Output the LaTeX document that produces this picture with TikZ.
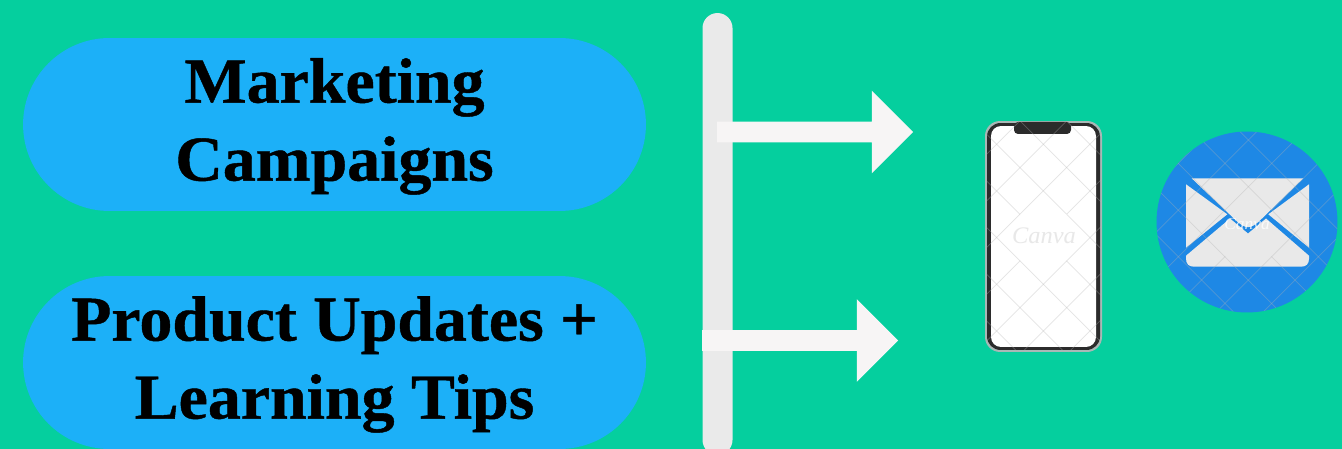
\documentclass[tikz,border=0pt]{standalone}
\usepackage{fontspec}
\setmainfont{Liberation Serif}[FakeStretch=1.03,BoldFeatures={FakeBold=0.7}]
\usepackage{tikz}
\usetikzlibrary{shapes.misc, shapes.arrows}

\definecolor{bggreen}{HTML}{05CF9E}
\definecolor{pillblue}{HTML}{1CB0F8}
\definecolor{barwhite}{HTML}{EAEAEA}
\definecolor{arrowwhite}{HTML}{F7F5F5}
\definecolor{mailblue}{HTML}{1E88E5}
\definecolor{mailwhite}{HTML}{E9E9E9}
\definecolor{phonedark}{HTML}{2B2B2B}
\definecolor{phonerim}{HTML}{A9B8B6}
\newcommand{\pillstrut}{\rule{0pt}{27.5pt}}

\begin{document}
\begin{tikzpicture}[
    x=0.02cm, y=-0.02cm,
    pill/.style={rounded rectangle, minimum width=12.46cm, minimum height=3.46cm, inner sep=0pt, outer sep=0pt, fill=pillblue, text=black, align=center, font=\fontsize{36.4}{44.4}\selectfont\bfseries},
    pointer/.style={single arrow, single arrow head extend=0.62cm, single arrow tip angle=90, minimum height=3.92cm, inner xsep=0pt, inner ysep=0.2cm, outer sep=0pt, fill=arrowwhite},
    lattice/.style={gray!60!white, opacity=0.35, line width=0.4pt},
    watermark/.style={inner sep=0pt, font=\itshape}
]

\fill [bggreen] (0,0) rectangle (1342,449);
\useasboundingbox (0,0) rectangle (1342,449);
\clip (0,0) rectangle (1342,449);

\node (campaigns) [pill] at (334.5,124.5) {\pillstrut Marketing\\Campaigns};
\node (updates) [pill] at (334.5,362.5) {\pillstrut Product Updates +\\Learning Tips};

\node (bar) [rectangle, rounded corners=0.3cm, minimum width=0.6cm, minimum height=8.84cm, inner sep=0pt, fill=barwhite] at (717.5,234) {};
\node (upper) [pointer] at (810,132) {};
\node (lower) [pointer] at (795,340.5) {};

\node (phone) [rectangle, rounded corners=0.3cm, minimum width=2.34cm, minimum height=4.62cm, inner sep=0pt, outer sep=0pt, fill=phonerim] at (1043.5,236.5) {};
\node (body) [rectangle, rounded corners=0.27cm, minimum width=2.26cm, minimum height=4.54cm, inner sep=0pt, outer sep=0pt, fill=phonedark] at (phone.center) {};
\node (screen) [rectangle, rounded corners=0.2cm, minimum width=2.1cm, minimum height=4.42cm, inner sep=0pt, outer sep=0pt, fill=white] at (phone.center) {};
\fill [phonedark, rounded corners=0.08cm] (1014,122) -- (1014,134) -- (1071,134) -- (1071,122) -- cycle;

\begin{scope}[even odd rule]
\clip [rounded corners=0.3cm] (985,121) rectangle (1102,352);
\clip (980,115) rectangle (1110,360) (1020,214) rectangle (1066.7,261);
\foreach \k in {-6,...,6} {
    \draw [lattice] (1043.3+46.67*\k-140,237.6-140) -- (1043.3+46.67*\k+140,237.6+140);
    \draw [lattice] (1043.3+46.67*\k+140,237.6-140) -- (1043.3+46.67*\k-140,237.6+140);
}
\end{scope}
\node (phonemark) [watermark, text=black!9, font=\fontsize{13.5}{15}\selectfont\itshape] at (1044,236) {Canva};

\node (mail) [circle, minimum size=3.62cm, inner sep=0pt, outer sep=0pt, fill=mailblue] at (1247,222) {};

\fill [mailwhite] (1191.7,178.3) -- (1303.3,178.3) -- (1258.7,221.7) .. controls (1250,229) and (1246,229) .. (1237.3,221.7) -- cycle;
\fill [mailwhite] (1186,184.3) -- (1186,247.7) -- (1227.3,214.3) -- cycle;
\fill [mailwhite] (1309,184.3) -- (1309,247.7) -- (1268.3,214.3) -- cycle;
\fill [mailwhite] (1186,255.7) -- (1186,258.7) .. controls (1186,264) and (1189,266.7) .. (1194,266.7) -- (1301,266.7) .. controls (1306,266.7) and (1309,264) .. (1309,258.7) -- (1309,255.7) -- (1266,218.5) -- (1248,233.5) -- (1230,218.5) -- cycle;

\begin{scope}[even odd rule]
\clip (1247,222) circle (90.5);
\clip (1150,125) rectangle (1342,320) (1225,210) rectangle (1271.7,256.7);
\foreach \k in {-6,...,6} {
    \draw [lattice] (1248.3+46.67*\k-140,233.4-140) -- (1248.3+46.67*\k+140,233.4+140);
    \draw [lattice] (1248.3+46.67*\k+140,233.4-140) -- (1248.3+46.67*\k-140,233.4+140);
}
\end{scope}
\node (mailmark) [watermark, text=white, opacity=0.8, font=\fontsize{9.6}{11}\selectfont\itshape] at (1247,224) {Canva};

\end{tikzpicture}
\end{document}
